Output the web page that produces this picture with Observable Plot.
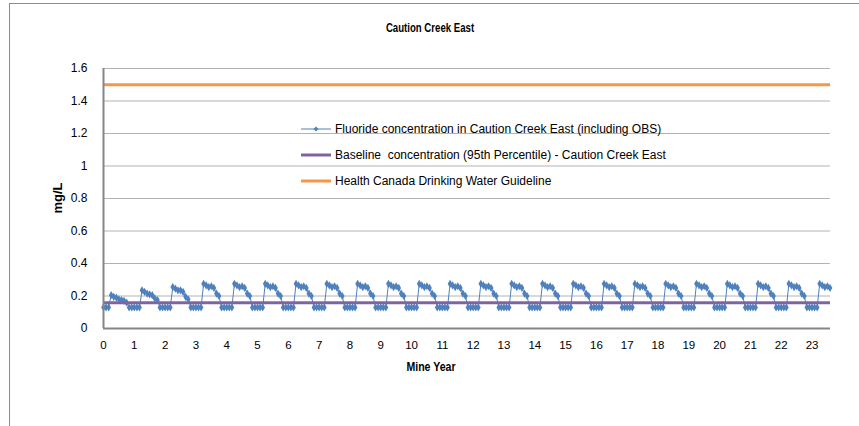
<!DOCTYPE html>
<html><head><meta charset="utf-8">
<script src="https://cdn.jsdelivr.net/npm/d3@7"></script>
<script src="https://cdn.jsdelivr.net/npm/@observablehq/plot@0.6"></script>
<style>
body{margin:0;background:#fff;}
#wrap{position:relative;width:859px;height:426px;overflow:hidden;font-family:"Liberation Sans",Arial,sans-serif;background:#fff;}
#border{position:absolute;left:9px;top:3px;width:1000px;height:600px;border:1.5px solid #8c8c8c;box-sizing:border-box;}
#chart{position:absolute;left:0;top:0;}
.ttl{position:absolute;font-weight:bold;color:#000;white-space:nowrap;}
.leg{position:absolute;left:300px;font-size:12px;white-space:pre;display:flex;align-items:center;color:#000;}
.leg svg{margin-right:3px;}
</style></head>
<body>
<div id="wrap">
  <div id="border"></div>
  <div id="chart"></div>
  <div class="ttl" id="title" style="left:430px;top:27px;font-size:13px;transform:translate(-50%,-50%) scaleX(0.74);"></div>
  <div class="ttl" id="xlab" style="left:431px;top:367px;font-size:12px;transform:translate(-50%,-50%) scaleX(0.88);"></div>
  <div class="ttl" id="ylab" style="left:57px;top:198px;font-size:13px;transform:translate(-50%,-50%) rotate(-90deg);"></div>
  <div id="legend"></div>
</div>
<script>
// ---- data ----
const title = "Caution Creek East";
const xLabel = "Mine Year";
const yLabel = "mg/L";
const seriesNames = [
  "Fluoride concentration in Caution Creek East (including OBS)",
  "Baseline  concentration (95th Percentile) - Caution Creek East",
  "Health Canada Drinking Water Guideline"
];
const baseline = 0.158;
const guideline = 1.5;
const xTicks = [0,1,2,3,4,5,6,7,8,9,10,11,12,13,14,15,16,17,18,19,20,21,22,23];
const yTicks = [0,0.2,0.4,0.6,0.8,1,1.2,1.4,1.6];
const yTickLabels = ["0","0.2","0.4","0.6","0.8","1","1.2","1.4","1.6"];
// monthly fluoride concentration (mg/L), one row per mine year, months 0..11
const fluorideByYear = [
  [0.13,0.13,0.13,0.205,0.195,0.19,0.18,0.175,0.17,0.16,0.13,0.13],
  [0.13,0.13,0.13,0.235,0.225,0.215,0.21,0.205,0.185,0.175,0.13,0.13],
  [0.13,0.13,0.13,0.255,0.245,0.235,0.235,0.225,0.195,0.18,0.13,0.13],
  [0.13,0.13,0.13,0.275,0.265,0.255,0.26,0.25,0.215,0.2,0.13,0.13],
  [0.13,0.13,0.13,0.275,0.265,0.255,0.26,0.25,0.215,0.2,0.13,0.13],
  [0.13,0.13,0.13,0.275,0.265,0.255,0.26,0.25,0.215,0.2,0.13,0.13],
  [0.13,0.13,0.13,0.275,0.265,0.255,0.26,0.25,0.215,0.2,0.13,0.13],
  [0.13,0.13,0.13,0.275,0.265,0.255,0.26,0.25,0.215,0.2,0.13,0.13],
  [0.13,0.13,0.13,0.275,0.265,0.255,0.26,0.25,0.215,0.2,0.13,0.13],
  [0.13,0.13,0.13,0.275,0.265,0.255,0.26,0.25,0.215,0.2,0.13,0.13],
  [0.13,0.13,0.13,0.275,0.265,0.255,0.26,0.25,0.215,0.2,0.13,0.13],
  [0.13,0.13,0.13,0.275,0.265,0.255,0.26,0.25,0.215,0.2,0.13,0.13],
  [0.13,0.13,0.13,0.275,0.265,0.255,0.26,0.25,0.215,0.2,0.13,0.13],
  [0.13,0.13,0.13,0.275,0.265,0.255,0.26,0.25,0.215,0.2,0.13,0.13],
  [0.13,0.13,0.13,0.275,0.265,0.255,0.26,0.25,0.215,0.2,0.13,0.13],
  [0.13,0.13,0.13,0.275,0.265,0.255,0.26,0.25,0.215,0.2,0.13,0.13],
  [0.13,0.13,0.13,0.275,0.265,0.255,0.26,0.25,0.215,0.2,0.13,0.13],
  [0.13,0.13,0.13,0.275,0.265,0.255,0.26,0.25,0.215,0.2,0.13,0.13],
  [0.13,0.13,0.13,0.275,0.265,0.255,0.26,0.25,0.215,0.2,0.13,0.13],
  [0.13,0.13,0.13,0.275,0.265,0.255,0.26,0.25,0.215,0.2,0.13,0.13],
  [0.13,0.13,0.13,0.275,0.265,0.255,0.26,0.25,0.215,0.2,0.13,0.13],
  [0.13,0.13,0.13,0.275,0.265,0.255,0.26,0.25,0.215,0.2,0.13,0.13],
  [0.13,0.13,0.13,0.275,0.265,0.255,0.26,0.25,0.215,0.2,0.13,0.13],
  [0.13,0.13,0.13,0.275,0.265,0.255,0.26,0.25]
];
const colors = ["#4F81BD", "#8064A2", "#F79646"];

// ---- build table ----
const series = [];
fluorideByYear.forEach((row, yr) => row.forEach((v, m) => series.push({t: yr + m / 12, v})));

const chart = Plot.plot({
  width: 859, height: 426,
  marginLeft: 103, marginRight: 29, marginTop: 68, marginBottom: 98,
  style: {background: "transparent", fontFamily: "Liberation Sans, Arial, sans-serif", fontSize: "12px", color: "#000"},
  x: {domain: [0, 23.6], label: null},
  y: {domain: [0, 1.6], label: null},
  marks: [
    Plot.gridY(yTicks, {stroke: "#b3b3b3", strokeOpacity: 1, strokeWidth: 1}),
    Plot.axisY(yTicks, {tickSize: 0, tickPadding: 16, tickFormat: (d, i) => yTickLabels[i], label: null, fontSize: 12}),
    Plot.axisX(xTicks, {tickSize: 0, tickPadding: 12, tickFormat: d => String(d), label: null, fontSize: 11.5}),
    Plot.line(series, {x: "t", y: "v", stroke: colors[0], strokeWidth: 1}),
    Plot.dot(series, {x: "t", y: "v", symbol: "diamond", r: 2.5, fill: colors[0], stroke: "none"}),
    Plot.ruleY([baseline], {stroke: colors[1], strokeWidth: 3}),
    Plot.ruleY([guideline], {stroke: colors[2], strokeWidth: 3}),
    Plot.ruleX([0], {stroke: "#868686", strokeWidth: 2}),
    Plot.ruleY([0], {stroke: "#868686", strokeWidth: 2})
  ]
});
document.getElementById("chart").appendChild(chart);
document.getElementById("title").textContent = title;
document.getElementById("xlab").textContent = xLabel;
document.getElementById("ylab").textContent = yLabel;

// ---- legend ----
const legendTops = [129, 155, 181];
const leg = document.getElementById("legend");
seriesNames.forEach((name, i) => {
  const d = document.createElement("div");
  d.className = "leg";
  d.style.top = (legendTops[i] - 8) + "px";
  const sw = i === 0
    ? `<svg width="32" height="16"><line x1="1" y1="8" x2="31" y2="8" stroke="${colors[0]}" stroke-width="1"/><path d="M16,5.5L18.5,8L16,10.5L13.5,8Z" fill="${colors[0]}"/></svg>`
    : `<svg width="32" height="16"><line x1="1" y1="8" x2="31" y2="8" stroke="${colors[i]}" stroke-width="3"/></svg>`;
  d.innerHTML = sw + "<span></span>";
  d.querySelector("span").textContent = name;
  leg.appendChild(d);
});
</script>
</body></html>
